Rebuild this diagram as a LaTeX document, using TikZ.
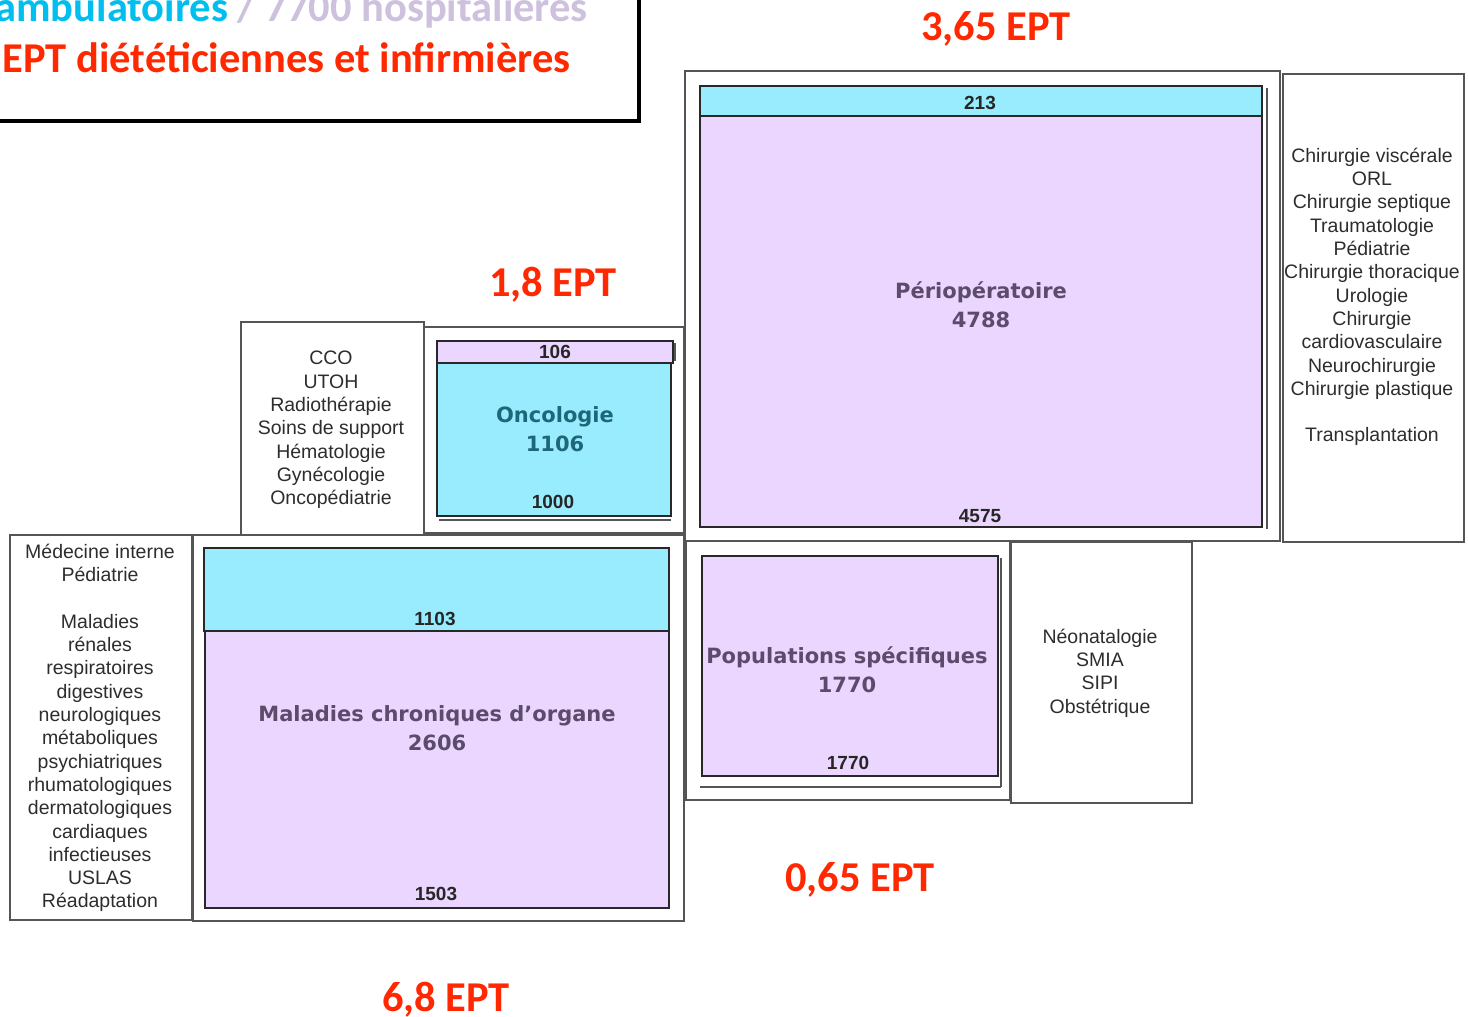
\documentclass[tikz,border=0pt]{standalone}
\usepackage{fontspec}
\setmainfont{Liberation Sans}
\newfontfamily\carlitofont{Carlito}
\newfontfamily\djvfont{DejaVu Sans}
\definecolor{cyanfill}{RGB}{153,235,254}
\definecolor{purpfill}{RGB}{234,214,254}
\definecolor{titlepurp}{RGB}{92,75,107}
\definecolor{titleteal}{RGB}{29,103,120}
\definecolor{redtxt}{RGB}{255,40,0}
\definecolor{cyantxt}{RGB}{0,191,239}
\definecolor{lilactxt}{RGB}{205,193,222}
\definecolor{listgray}{RGB}{45,45,45}
\definecolor{boxgray}{RGB}{85,85,85}
\definecolor{rectline}{RGB}{40,40,40}
\begin{document}
\begin{tikzpicture}[x=1pt,y=-1pt,
  grpbox/.style={draw=boxgray,line width=1.6pt},
  cyanrect/.style={draw=rectline,fill=cyanfill,line width=2pt},
  purprect/.style={draw=rectline,fill=purpfill,line width=2pt},
  shadowline/.style={draw=boxgray,line width=1.6pt},
  listtxt/.style={font=\fontsize{19.5}{23.3}\selectfont,text=listgray,align=center,inner sep=0pt},
  titletxt/.style={font=\djvfont\bfseries\fontsize{21}{29}\selectfont,align=center,inner sep=0pt},
  numtxt/.style={font=\bfseries\fontsize{19}{22}\selectfont,text=black!85,inner sep=0pt,anchor=base},
  redlbl/.style={font=\carlitofont\bfseries\fontsize{42.5}{48}\selectfont,text=redtxt,inner sep=0pt,anchor=base},
  headtxt/.style={font=\carlitofont\bfseries\fontsize{42.5}{48}\selectfont,inner sep=0pt,anchor=base east}]
\useasboundingbox (0,0) rectangle (1468,1017);
\clip (0,0) rectangle (1468,1017);
% top-left title box
\draw[line width=4pt] (-10,-10) rectangle (639,121);
\node[headtxt] (h1) at (588,21) {\textcolor{cyantxt}{ambulatoires} \textcolor{lilactxt}{/ 7700 hospitalières}};
\node[headtxt,text=redtxt] (h2) at (571,72) {EPT diététiciennes et infirmières};
% red EPT labels
\node[redlbl] (e1) at (996,40) {3,65 EPT};
\node[redlbl] (e2) at (553,296) {1,8 EPT};
\node[redlbl] (e3) at (860,891) {0,65 EPT};
\node[redlbl] (e4) at (446,1011) {6,8 EPT};
% ---- Perioperatoire group
\draw[grpbox] (685,71) rectangle (1280,541);
\draw[shadowline] (1267,88) -- (1267,529);
\draw[purprect] (700,116) rectangle (1262,527);
\draw[cyanrect] (700,86) rectangle (1262,116);
\node[numtxt] (p213) at (980,109) {213};
\node[titletxt,text=titlepurp] (pt) at (981,305) {Périopératoire\\4788};
\node[numtxt] (p4575) at (980,522) {4575};
\draw[grpbox] (1283,74) rectangle (1464,542);
\node[listtxt] (pl) at (1372,297) {Chirurgie viscérale\\ORL\\Chirurgie septique\\Traumatologie\\Pédiatrie\\Chirurgie thoracique\\Urologie\\Chirurgie\\cardiovasculaire\\Neurochirurgie\\Chirurgie plastique\\[23.3pt]Transplantation};
% ---- Oncologie group
\draw[grpbox] (424,327) rectangle (684,533);
\draw[shadowline] (439,520) -- (671,520);
\draw[shadowline] (675,343) -- (675,361);
\draw[cyanrect] (437,363) rectangle (671,516);
\draw[purprect] (437,341) rectangle (673,363);
\node[numtxt] (o106) at (555,358) {106};
\node[titletxt,text=titleteal] (ot) at (555,429) {Oncologie\\1106};
\node[numtxt] (o1000) at (553,508) {1000};
\draw[grpbox] (241,322) rectangle (424,535);
\node[listtxt] (ol) at (331,430) {CCO\\UTOH\\Radiothérapie\\Soins de support\\Hématologie\\Gynécologie\\Oncopédiatrie};
% ---- Maladies chroniques group
\draw[grpbox] (193,535) rectangle (684,921);
\draw[purprect] (205,631) rectangle (669,908);
\draw[cyanrect] (204,548) rectangle (669,631);
\node[numtxt] (m1103) at (435,625) {1103};
\node[titletxt,text=titlepurp] (mt) at (437,728) {Maladies chroniques d’organe\\2606};
\node[numtxt] (m1503) at (436,900) {1503};
\draw[grpbox] (10,535) rectangle (192,920);
\node[listtxt] (ml) at (100,728) {Médecine interne\\Pédiatrie\\[23.3pt]Maladies\\rénales\\respiratoires\\digestives\\neurologiques\\métaboliques\\psychiatriques\\rhumatologiques\\dermatologiques\\cardiaques\\infectieuses\\USLAS\\Réadaptation};
% ---- Populations specifiques group
\draw[grpbox] (686,541) rectangle (1010,800);
\draw[shadowline] (700,787) -- (1001,787);
\draw[shadowline] (1001,558) -- (1001,787);
\draw[purprect] (702,556) rectangle (998,776);
\node[titletxt,text=titlepurp] (st) at (847,670) {Populations spécifiques\\1770};
\node[numtxt] (s1770) at (848,769) {1770};
\draw[grpbox] (1011,542) rectangle (1192,803);
\node[listtxt] (sl) at (1100,673) {Néonatalogie\\SMIA\\SIPI\\Obstétrique};
\end{tikzpicture}
\end{document}
